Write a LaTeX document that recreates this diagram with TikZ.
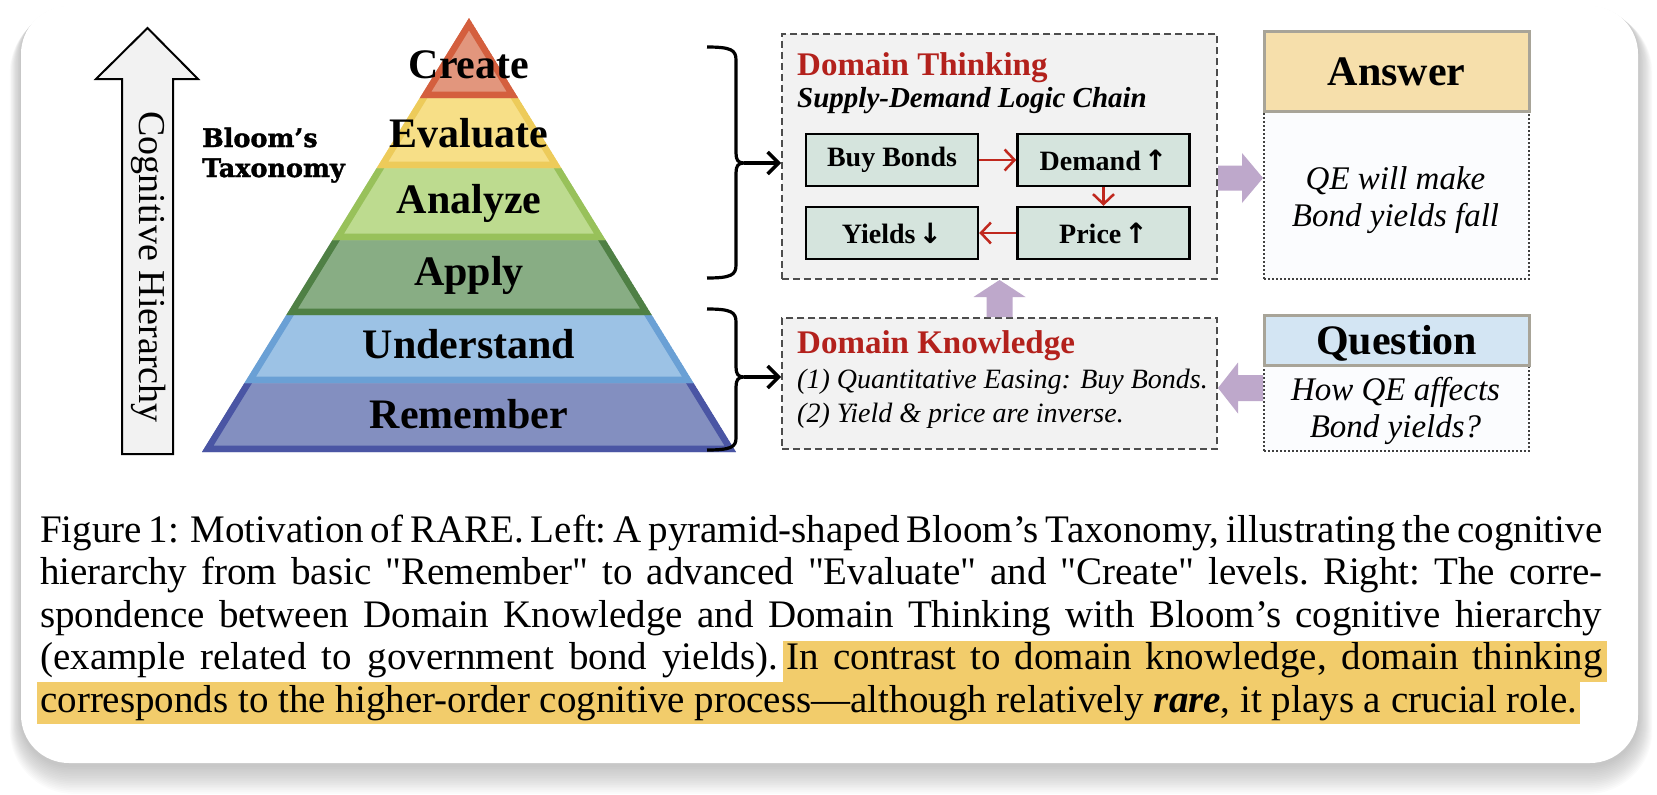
\documentclass[tikz,border=0pt]{standalone}
\usepackage{fontspec}
\setmainfont{Liberation Serif}
\newfontfamily\bloomfont[BoldFeatures={FakeBold=1.5}]{DejaVu Serif}
\newfontfamily\symfont{DejaVu Sans}
\usetikzlibrary{arrows.meta,calc}
\definecolor{crF}{HTML}{E2967D}\definecolor{crS}{HTML}{D45F3E}
\definecolor{evF}{HTML}{F7DF87}\definecolor{evS}{HTML}{EDCB5A}
\definecolor{anF}{HTML}{BDDB8F}\definecolor{anS}{HTML}{98C15A}
\definecolor{apF}{HTML}{88AD84}\definecolor{apS}{HTML}{4F8045}
\definecolor{unF}{HTML}{9CC2E5}\definecolor{unS}{HTML}{6AA0D5}
\definecolor{reF}{HTML}{838FC0}\definecolor{reS}{HTML}{4A55A4}
\definecolor{boxgray}{HTML}{F2F2F2}
\definecolor{dashgray}{HTML}{4D4D4D}
\definecolor{mint}{HTML}{D5E4DD}
\definecolor{titlered}{HTML}{B3211C}
\definecolor{arrred}{HTML}{C0281E}
\definecolor{lilac}{HTML}{BEA8CB}
\definecolor{ansF}{HTML}{F6DFAB}
\definecolor{queF}{HTML}{D3E5F3}
\definecolor{hdrS}{HTML}{A8A498}
\definecolor{bodyF}{HTML}{FBFCFE}
\definecolor{hiF}{HTML}{F2CC6B}
\definecolor{hollowF}{HTML}{F2F2F2}
\newcommand\pyrband[4]{%
  \pgfmathsetmacro\ylo{#1-12}%
  \pgfmathsetmacro\xlt{469-0.6152*(#1-18)}%
  \pgfmathsetmacro\xrt{469+0.6152*(#1-18)}%
  \pgfmathsetmacro\xlb{469-0.6152*(#2-18)}%
  \pgfmathsetmacro\xrb{469+0.6152*(#2-18)}%
  \pgfmathsetmacro\xle{469-0.6152*(#1-30)}%
  \pgfmathsetmacro\xre{469+0.6152*(#1-30)}%
  \begin{scope}
    \clip (\xlt,#1) -- (\xlb,#2) -- (\xrb,#2) -- (\xrt,#1) -- cycle;
    \fill[#3] (\xlt,#1) -- (\xlb,#2) -- (\xrb,#2) -- (\xrt,#1) -- cycle;
    \draw[#4, line width=13pt, line join=miter] (\xle,\ylo) -- (\xlb,#2) -- (\xrb,#2) -- (\xre,\ylo);
  \end{scope}}
\begin{document}
\begin{tikzpicture}[x=1pt,y=-1pt,
  lvl/.style={font=\fontsize{42}{46}\selectfont\bfseries, anchor=base, inner sep=0pt},
  dashbox/.style={draw=dashgray, fill=boxgray, line width=2pt, dash pattern=on 7pt off 4pt, anchor=north west, inner sep=0pt},
  stepnode/.style={draw=black, fill=mint, line width=2.4pt, minimum width=172pt, minimum height=52pt, inner sep=0pt, font=\fontsize{28}{32}\selectfont\bfseries},
  redarr/.style={draw=arrred, line width=2.5pt, -{Straight Barb[length=10pt,width=21pt]}},
  bracepath/.style={draw=black, line width=3.2pt},
  bracearr/.style={draw=black, line width=3.4pt, -{Straight Barb[length=11pt,width=22pt]}},
  titletext/.style={font=\fontsize{33}{36}\selectfont\bfseries, text=titlered, inner sep=0pt, anchor=base west},
  subtext/.style={font=\fontsize{29}{32}\selectfont\bfseries\itshape, inner sep=0pt, anchor=base west},
  itext/.style={font=\fontsize{28}{31}\selectfont\itshape, inner sep=0pt, anchor=base west},
  hdrbox/.style={draw=hdrS, line width=2.5pt, anchor=north west, minimum width=265pt, inner sep=0pt, text height=28pt, text depth=0pt, font=\fontsize{42}{46}\selectfont\bfseries},
  bodybox/.style={draw=black!75, fill=bodyF, line width=2pt, dash pattern=on 2pt off 2pt, anchor=north west, minimum width=265pt, inner sep=0pt},
  bodytext/.style={font=\fontsize{33}{37}\selectfont\itshape, inner sep=0pt, anchor=base},
  capline/.style={font=\fontsize{39}{42.5}\selectfont, inner sep=0pt, anchor=base west},
  bloomtext/.style={font=\fontsize{25.5}{29}\selectfont\bloomfont\bfseries, inner sep=0pt, anchor=base west}
]
\useasboundingbox (0,0) rectangle (1657,795);
% card shadow and card
\foreach \i in {1,...,16}{
  \pgfmathsetmacro\rr{48+\i}
  \fill[black, opacity=0.014, rounded corners=\rr pt] (21-0.7*\i, 6+0.2*\i) rectangle (1638+0.9*\i, 765+1.8*\i);
}
\fill[white, rounded corners=48pt] (21,6) rectangle (1638,763);

% hollow arrow
\draw[fill=hollowF, line width=2pt, line join=miter] (122,454) -- (122,79) -- (96,79) -- (147.5,28) -- (198,79) -- (173,79) -- (173,454) -- cycle;
\node[rotate=-90, font=\fontsize{38}{40}\selectfont, inner sep=0pt] (ch) at (149,267) {Cognitive Hierarchy};

\node[bloomtext] (bl1) at (202,147) {Bloom’s};
\node[bloomtext] (bl2) at (202,177) {Taxonomy};

% pyramid
\pyrband{383}{452}{reF}{reS}
\pyrband{315}{383}{unF}{unS}
\pyrband{240}{315}{apF}{apS}
\pyrband{168}{240}{anF}{anS}
\pyrband{98}{168}{evF}{evS}
\begin{scope}
  \clip (469,18) -- (419.8,98) -- (518.2,98) -- cycle;
  \fill[crF] (469,18) -- (419.8,98) -- (518.2,98) -- cycle;
  \draw[crS, line width=13pt, line join=miter] (469,18) -- (419.8,98) -- (518.2,98) -- cycle;
\end{scope}
\node[lvl] (create) at (469,78) {Create};
\node[lvl] (evaluate) at (469,147) {Evaluate};
\node[lvl] (analyze) at (469,213) {Analyze};
\node[lvl] (apply) at (469,285) {Apply};
\node[lvl] (understand) at (469,358) {Understand};
\node[lvl] (remember) at (469,428) {Remember};

% boxes
\node[dashbox, minimum width=435pt, minimum height=245pt] (dt) at (781,33) {};
\node[dashbox, minimum width=435pt, minimum height=131pt] (dk) at (781,317) {};

\node[titletext] (dttitle) at (797,75) {Domain Thinking};
\node[subtext] (dtsub) at (797,107) {Supply-Demand Logic Chain};
\node[stepnode] (bb) at (892,160) {Buy Bonds};
\node[stepnode] (dem) at (1103.5,160) {Demand\kern3pt{\symfont ↑}};
\node[stepnode] (yld) at (892,233) {Yields\kern3pt{\symfont ↓}};
\node[stepnode] (pri) at (1103.5,233) {Price\kern3pt{\symfont ↑}};
\draw[redarr] (bb) -- (dem);
\draw[redarr] (dem) -- (pri);
\draw[redarr] (pri) -- (yld);

\node[titletext] (dktitle) at (797,353) {Domain Knowledge};
\node[itext] (dk1) at (797,388) {(1) Quantitative Easing: Buy Bonds.};
\node[itext] (dk2) at (797,422) {(2) Yield \& price are inverse.};

% answer / question
\node[bodybox, minimum height=168pt] (ansb) at (1263,110) {};
\node[hdrbox, fill=ansF, minimum height=80pt] (ansh) at (1263,30) {Answer};
\node[bodytext] (at1) at (1395.5,189) {QE will make};
\node[bodytext] (at2) at (1395.5,226) {Bond yields fall};
\node[bodybox, minimum height=86pt] (qb) at (1263,364) {};
\node[hdrbox, fill=queF, minimum height=50pt] (qh) at (1263,314) {Question};
\node[bodytext] (qt1) at (1395.5,400) {How QE affects};
\node[bodytext] (qt2) at (1395.5,437) {Bond yields?};

% block arrows
\fill[lilac] ($(dk.north)+(-13,0)$) -- ($(dt.south)+(-13,17)$) -- ($(dt.south)+(-26,17)$) -- (dt.south) -- ($(dt.south)+(26,17)$) -- ($(dt.south)+(13,17)$) -- ($(dk.north)+(13,0)$) -- cycle;
\coordinate (a1s) at ([yshift=-21.5pt]dt.east);
\coordinate (a1e) at (a1s -| ansb.west);
\fill[lilac] ($(a1s)+(0,-12.5)$) -- ($(a1e)+(-21,-12.5)$) -- ($(a1e)+(-21,-25)$) -- (a1e) -- ($(a1e)+(-21,25)$) -- ($(a1e)+(-21,12.5)$) -- ($(a1s)+(0,12.5)$) -- cycle;
\coordinate (qa) at ([yshift=20pt]qb.west);
\coordinate (qe) at (qa -| dk.east);
\fill[lilac] ($(qa)+(0,-13)$) -- ($(qe)+(20,-13)$) -- ($(qe)+(20,-25.5)$) -- (qe) -- ($(qe)+(20,25.5)$) -- ($(qe)+(20,13)$) -- ($(qa)+(0,13)$) -- cycle;

% braces
\coordinate (bt1) at (744,163);
\coordinate (bt2) at (744,377);
\draw[bracepath] (707,47) .. controls (731,47) and (736,50) .. (736,60) -- (736,153) .. controls (736,160) and (738,163) .. (bt1) .. controls (738,163) and (736,166) .. (736,173) -- (736,265) .. controls (736,275) and (731,278) .. (707,278);
\draw[bracepath] (707,309) .. controls (731,309) and (736,312) .. (736,322) -- (736,367) .. controls (736,374) and (738,377) .. (bt2) .. controls (738,377) and (736,380) .. (736,387) -- (736,438) .. controls (736,447) and (731,450) .. (707,450);
\draw[bracearr] (bt1) -- (bt1 -| dt.west);
\draw[bracearr] (bt2) -- (bt2 -| dk.west);

% caption
\node[capline] (c1) at (40,542) {\makebox[1562pt][s]{Figure 1: Motivation of RARE. Left:\ A pyramid-shaped Bloom’s Taxonomy, illustrating the cognitive}};
\node[capline] (c2) at (40,584.5) {\makebox[1562pt][s]{hierarchy from basic \textquotedbl Remember\textquotedbl\ to advanced \textquotedbl Evaluate\textquotedbl\ and \textquotedbl Create\textquotedbl\ levels.\ Right:\ The corre-}};
\node[capline] (c3) at (40,627) {\makebox[1562pt][s]{spondence between Domain Knowledge and Domain Thinking with Bloom’s cognitive hierarchy}};
\node[capline] (c4a) at (40,669.5) {\makebox[738pt][s]{(example related to government bond yields).}};
\node[capline, anchor=base east, fill=hiF, inner xsep=4pt, text height=29pt, text depth=12pt] (c4b) at (1607,669.5) {\makebox[816pt][s]{In contrast to domain knowledge, domain thinking}};
\node[capline, fill=hiF, inner xsep=3pt, text height=30pt, text depth=12pt, xshift=-3pt] (c5) at (40,712) {corresponds to the higher-order cognitive process—although relatively \textbf{\textit{rare}}, it plays a crucial role.};
\end{tikzpicture}
\end{document}
